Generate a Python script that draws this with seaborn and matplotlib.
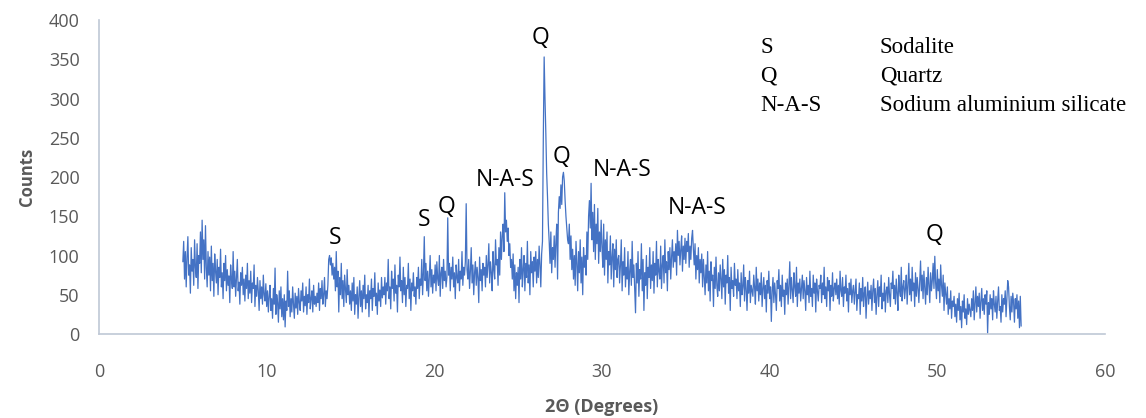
import numpy as np
import pandas as pd
import matplotlib
matplotlib.use("Agg")
import matplotlib.pyplot as plt
import seaborn as sns

# ---- data: counts, 0.05 deg step, 5..55 deg ----
start_deg = 5.0
step_deg = 0.05

counts_05_10 = [
    92, 118, 70, 105, 60, 98, 124, 75, 88, 52, 110, 80, 95, 62, 120, 85, 72, 115, 58, 100,
    90, 130, 78, 145, 95, 120, 70, 138, 85, 60, 105, 75, 98, 55, 112, 68, 90, 48, 102, 80,
    65, 95, 50, 85, 72, 108, 60, 78, 45, 90, 68, 100, 55, 82, 62, 74, 40, 88, 70, 58,
    105, 60, 80, 48, 72, 95, 55, 66, 38, 78, 62, 85, 50, 70, 42, 75, 58, 90, 45, 68,
    52, 80, 40, 65, 58, 88, 35, 62, 48, 72, 55, 30, 68, 45, 60, 38, 75, 50, 42, 64,
]
counts_10_15 = [
    35, 55, 28, 48, 62, 30, 45, 20, 58, 38, 84, 25, 50, 40, 15, 55, 32, 60, 22, 45,
    18, 50, 9, 42, 30, 80, 35, 55, 22, 45, 28, 60, 38, 20, 52, 33, 48, 25, 58, 40,
    30, 55, 42, 65, 28, 48, 36, 60, 25, 50, 40, 70, 32, 45, 55, 28, 62, 38, 48, 35,
    52, 40, 65, 30, 58, 45, 68, 38, 50, 72, 35, 55, 45, 62, 95, 100, 88, 97, 75, 90,
    70, 85, 55, 105, 60, 80, 28, 72, 50, 90, 45, 68, 35, 75, 58, 40, 82, 50, 62, 38,
]
counts_15_20 = [
    55, 30, 65, 42, 72, 25, 50, 38, 60, 20, 48, 68, 35, 55, 28, 62, 45, 75, 32, 50,
    40, 62, 22, 55, 45, 70, 30, 58, 48, 78, 36, 52, 25, 65, 42, 56, 35, 72, 46, 60,
    50, 72, 38, 65, 55, 95, 45, 60, 32, 80, 58, 70, 42, 88, 52, 62, 28, 75, 60, 98,
    55, 68, 40, 85, 50, 72, 35, 62, 58, 90, 45, 70, 30, 65, 55, 78, 48, 60, 38, 72,
    58, 85, 45, 70, 62, 95, 50, 78, 124, 68, 90, 55, 80, 48, 72, 100, 60, 82, 52, 75,
]
counts_20_25 = [
    65, 88, 55, 92, 70, 62, 100, 48, 78, 85, 58, 95, 68, 80, 60, 72, 148, 75, 90, 55,
    85, 70, 98, 60, 78, 45, 88, 72, 65, 95, 55, 80, 70, 105, 62, 85, 75, 92, 166, 82,
    70, 95, 58, 80, 110, 65, 88, 50, 78, 92, 62, 85, 72, 40, 98, 68, 82, 55, 90, 75,
    85, 60, 100, 72, 88, 115, 65, 92, 78, 55, 105, 82, 70, 120, 88, 95, 62, 110, 75, 130,
    95, 125, 140, 105, 180, 130, 145, 118, 135, 100, 115, 85, 95, 70, 102, 55, 88, 45, 78, 62,
]
counts_25_30 = [
    85, 40, 95, 70, 110, 60, 82, 100, 55, 90, 72, 118, 65, 88, 50, 105, 78, 92, 60, 98,
    80, 105, 65, 95, 72, 112, 88, 60, 102, 118, 250, 353, 300, 256, 205, 175, 140, 118, 90, 130,
    78, 110, 95, 125, 85, 118, 140, 70, 155, 175, 160, 190, 165, 200, 206, 195, 170, 150, 135, 120,
    115, 140, 95, 125, 82, 108, 70, 100, 62, 118, 90, 55, 105, 78, 120, 65, 98, 50, 110, 85,
    100, 75, 130, 95, 150, 170, 135, 192, 120, 155, 105, 165, 95, 140, 115, 160, 90, 130, 105, 145,
]
counts_30_35 = [
    110, 85, 140, 75, 120, 95, 130, 65, 105, 88, 125, 70, 98, 115, 60, 108, 82, 120, 72, 95,
    100, 65, 88, 120, 55, 92, 75, 110, 60, 85, 70, 105, 50, 80, 95, 62, 118, 72, 88, 58,
    27, 90, 65, 105, 48, 82, 70, 115, 55, 95, 30, 78, 62, 100, 45, 85, 72, 110, 58, 88,
    68, 105, 52, 90, 75, 118, 60, 95, 80, 70, 112, 58, 88, 100, 65, 120, 78, 92, 55, 105,
    82, 110, 70, 98, 120, 85, 105, 92, 115, 75, 132, 100, 118, 88, 108, 125, 80, 112, 95, 122,
]
counts_35_40 = [
    90, 118, 105, 128, 85, 112, 95, 122, 132, 108, 88, 115, 70, 100, 82, 110, 65, 95, 78, 102,
    60, 95, 72, 50, 88, 65, 105, 55, 80, 42, 92, 68, 75, 35, 85, 58, 98, 62, 48, 78,
    55, 88, 70, 45, 95, 60, 82, 38, 75, 65, 100, 52, 72, 30, 85, 58, 68, 48, 90, 62,
    70, 45, 82, 55, 65, 35, 78, 50, 60, 88, 42, 72, 58, 30, 68, 52, 80, 40, 62, 55,
    48, 75, 60, 38, 85, 55, 70, 42, 65, 50, 78, 35, 58, 72, 45, 62, 28, 68, 52, 80,
]
counts_40_45 = [
    45, 60, 16, 55, 72, 40, 65, 50, 30, 68, 58, 82, 42, 62, 35, 75, 48, 56, 25, 65,
    50, 70, 38, 62, 92, 45, 72, 55, 40, 78, 60, 48, 85, 35, 65, 52, 70, 42, 58, 75,
    45, 68, 55, 30, 72, 50, 62, 40, 80, 48, 58, 35, 75, 52, 65, 28, 70, 55, 42, 62,
    58, 75, 40, 65, 50, 85, 45, 60, 35, 72, 55, 68, 30, 62, 48, 78, 42, 58, 65, 50,
    70, 45, 62, 38, 80, 55, 48, 72, 35, 60, 52, 75, 42, 58, 28, 65, 50, 70, 40, 55,
]
counts_45_50 = [
    62, 38, 55, 70, 30, 50, 45, 65, 25, 58, 42, 72, 35, 52, 60, 20, 48, 66, 38, 55,
    45, 62, 30, 55, 70, 40, 58, 25, 50, 68, 35, 60, 48, 75, 32, 52, 42, 65, 28, 55,
    60, 40, 72, 50, 35, 65, 58, 80, 45, 62, 38, 70, 52, 30, 75, 55, 48, 85, 42, 60,
    68, 45, 58, 75, 38, 62, 90, 50, 70, 42, 85, 55, 65, 35, 78, 48, 72, 58, 40, 68,
    93, 55, 75, 45, 80, 60, 38, 72, 50, 85, 62, 40, 78, 55, 68, 90, 58, 99, 65, 45,
]
counts_50_55 = [
    82, 55, 70, 40, 88, 62, 48, 75, 30, 65, 52, 38, 60, 25, 45, 32, 55, 20, 42, 35,
    48, 22, 38, 15, 45, 30, 52, 18, 35, 8, 42, 28, 50, 20, 32, 12, 45, 25, 38, 30,
    22, 45, 30, 55, 18, 40, 60, 28, 48, 35, 52, 20, 42, 58, 30, 45, 25, 50, 38, 55,
    1, 40, 25, 50, 32, 45, 18, 55, 38, 28, 48, 20, 42, 60, 30, 35, 15, 50, 28, 45,
    38, 55, 22, 45, 68, 60, 35, 18, 48, 28, 52, 40, 15, 45, 32, 50, 20, 42, 8, 48,
    10,
]

peak_labels = ["S", "S", "Q", "N-A-S", "Q", "Q", "N-A-S", "N-A-S", "Q"]
peak_label_x = [14.07, 19.38, 20.7, 24.2, 26.36, 27.6, 31.2, 35.66, 49.85]
peak_label_y = [122, 145, 162, 196, 377, 225, 209, 160, 126]

legend_codes = ["S", "Q", "N-A-S"]
legend_names = ["Sodalite", "Quartz", "Sodium aluminium silicate"]

x_ticks = [0, 10, 20, 30, 40, 50, 60]
y_ticks = [0, 50, 100, 150, 200, 250, 300, 350, 400]

# ---- build table ----
counts = (counts_05_10 + counts_10_15 + counts_15_20 + counts_20_25 + counts_25_30
          + counts_30_35 + counts_35_40 + counts_40_45 + counts_45_50 + counts_50_55)
two_theta = start_deg + step_deg * np.arange(len(counts))
df = pd.DataFrame({"two_theta": two_theta, "counts": counts})

sns.set_style("white")
plt.rcParams["font.family"] = ["Open Sans", "DejaVu Sans"]

fig = plt.figure(figsize=(11.46, 4.18), dpi=100)
ax = fig.add_axes([0.0864, 0.201, 0.8778, 0.751])

sns.lineplot(data=df, x="two_theta", y="counts", ax=ax, color="#4472C4",
             linewidth=0.9, estimator=None)

ax.set_xlim(0, 60)
ax.set_ylim(0, 400)
ax.set_xticks(x_ticks)
ax.set_yticks(y_ticks)
tick_color = "#595959"
ax.tick_params(axis="both", length=0, labelsize=13, colors=tick_color)
ax.tick_params(axis="x", pad=21)
ax.tick_params(axis="y", pad=14)
for s in ["top", "right"]:
    ax.spines[s].set_visible(False)
for s in ["left", "bottom"]:
    ax.spines[s].set_color("#BFC8D6")
    ax.spines[s].set_linewidth(1.2)

ax.set_xlabel("2Θ (Degrees)", fontsize=13, fontweight="bold", color=tick_color, labelpad=12)
ax.set_ylabel("Counts", fontsize=12, fontweight="bold", color=tick_color, labelpad=9)

for lab, px, py in zip(peak_labels, peak_label_x, peak_label_y):
    ax.text(px, py, lab, ha="center", va="center", fontsize=16.5, color="black")

legend_y = [365.6, 328.7, 291.7]
for code, name, ly in zip(legend_codes, legend_names, legend_y):
    ax.text(39.45, ly, code, ha="left", va="center", fontsize=16.5,
            family=["Liberation Serif"], color="black")
    ax.text(46.57, ly, name, ha="left", va="center", fontsize=16.5,
            family=["Liberation Serif"], color="black")

fig.savefig("out.png", dpi=100)
